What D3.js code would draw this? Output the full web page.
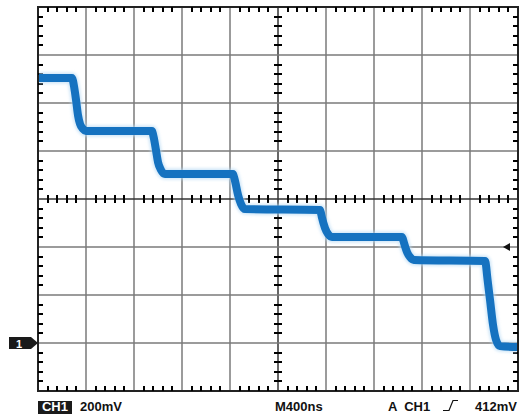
<!DOCTYPE html>
<html><head><meta charset="utf-8">
<script src="https://cdn.jsdelivr.net/npm/d3@7"></script>
<style>
html,body{margin:0;padding:0;background:#fff;}
svg{display:block;}
text{font-family:"Liberation Sans",Arial,sans-serif;font-weight:bold;}
</style></head>
<body>
<script>
// Trace vertices: time (ns, 0 = screen centre) and voltage (mV, 0 = CH1 ground)
const timeNs = [-2000,-1717,-1708,-1700,-1683,-1667,-1650,-1625,-1600,-1050,-1042,-1033,-1017,-1000,-975,-942,
  -375,-367,-358,-333,-308,-275,350,358,367,392,417,450,1033,1042,1050,1075,1100,1133,1725,1733,1742,1767,1792,1817,1850,2000];
const voltMv = [1104,1104,1092,1070,1013,950,913,892,883,883,871,850,804,754,721,704,
  704,692,675,617,579,558,554,542,521,479,454,442,442,431,417,379,358,346,342,325,283,179,75,13,-13,-17];
const timePerDiv = 400;   // ns/div
const voltPerDiv = 200;   // mV/div
const triggerMv = 400;    // trigger marker level (mV)
const groundMv = 0;
const labelCh = "CH1";
const labelScale = "200mV";
const labelTime = "M400ns";
const labelTrigA = "A  CH1";
const labelTrigLevel = "412mV";

const W = 522, H = 417;
const L = 38, R = 518, T = 7, B = 391;
const svg = d3.select("body").append("svg").attr("width", W).attr("height", H);

const x = d3.scaleLinear().domain([-5*timePerDiv, 5*timePerDiv]).range([L, R]);
const y = d3.scaleLinear().domain([-1*voltPerDiv, 7*voltPerDiv]).range([B, T]);

const xMajor = d3.range(-4, 5).map(d => d*timePerDiv);
const yMajor = d3.range(0, 7).map(d => d*voltPerDiv);
const xMinor = d3.range(-25, 26).filter(d => d % 5 !== 0).map(d => d*timePerDiv/5);
const yMinor = d3.range(-5, 36).filter(d => d % 5 !== 0).map(d => d*voltPerDiv/5);
const yCenter = 3*voltPerDiv;

const grid = svg.append("g");
grid.selectAll("line.gx").data(xMajor).join("line").attr("class","gx")
  .attr("x1", d => x(d)).attr("x2", d => x(d)).attr("y1", T).attr("y2", B)
  .attr("stroke", d => d===0 ? "#333" : "#7a7a7a").attr("stroke-width", 1.5);
grid.selectAll("line.gy").data(yMajor).join("line").attr("class","gy")
  .attr("y1", d => y(d)).attr("y2", d => y(d)).attr("x1", L).attr("x2", R)
  .attr("stroke", d => d===yCenter ? "#333" : "#7a7a7a").attr("stroke-width", 1.5);

// minor ticks on borders and centre lines, as one path
const tl = 5;
const tp = d3.path();
xMinor.forEach(d => {
  const xx = Math.round(x(d));
  tp.moveTo(xx, T); tp.lineTo(xx, T+tl);
  tp.moveTo(xx, B); tp.lineTo(xx, B-tl);
  tp.moveTo(xx, y(yCenter)-4); tp.lineTo(xx, y(yCenter)+4);
});
yMinor.forEach(d => {
  const yy = Math.round(y(d));
  tp.moveTo(L, yy); tp.lineTo(L+tl, yy);
  tp.moveTo(R, yy); tp.lineTo(R-tl, yy);
  tp.moveTo(x(0)-4, yy); tp.lineTo(x(0)+4, yy);
});

// border
svg.append("rect").attr("x", L).attr("y", T).attr("width", R-L).attr("height", B-T)
  .attr("fill","none").attr("stroke","#222").attr("stroke-width",2);
svg.append("path").attr("class","ticks").attr("d", tp.toString()).attr("fill","none")
  .attr("stroke","#000").attr("stroke-width",2);

// trace
const defs = svg.append("defs");
defs.append("clipPath").attr("id","clip").append("rect").attr("x",L+1).attr("y",T+1).attr("width",R-L-2).attr("height",B-T-2);
const flt = defs.append("filter").attr("id","glow").attr("x","-10%").attr("y","-10%").attr("width","120%").attr("height","120%");
flt.append("feGaussianBlur").attr("stdDeviation",1.8);
const pts = timeNs.map((t,i) => [t, voltMv[i]]);
const line = d3.line().x(d => x(d[0])).y(d => y(d[1])).curve(d3.curveMonotoneX);
const tg = svg.append("g").attr("clip-path","url(#clip)");
tg.append("path").attr("d", line(pts)).attr("fill","none").attr("stroke","#b9dcf5")
  .attr("stroke-width",11).attr("stroke-opacity",0.7).attr("filter","url(#glow)");
tg.append("path").attr("d", line(pts)).attr("fill","none").attr("stroke","#1572c0")
  .attr("stroke-width",8).attr("stroke-linejoin","miter").attr("stroke-linecap","butt");

// ground marker "1"
const gy = y(groundMv);
svg.append("path").attr("d", `M9,${gy-6}H31L38,${gy}L31,${gy+6}H9Z`).attr("fill","#1a1a1a");
svg.append("text").attr("x",19).attr("y",gy+4.5).attr("text-anchor","middle").attr("fill","#fff")
  .attr("font-size",11).text("1");

// trigger marker
const ty = y(triggerMv);
svg.append("path").attr("d", `M503,${ty}L510,${ty-4}L510,${ty+4}Z`).attr("fill","#111");

// bottom labels
const by = 411;
svg.append("rect").attr("x",38).attr("y",401).attr("width",34).attr("height",13).attr("fill","#1a1a1a");
svg.append("text").attr("x",55).attr("y",by).attr("text-anchor","middle").attr("fill","#fff").attr("font-size",13).text(labelCh);
svg.append("text").attr("x",80).attr("y",by).attr("fill","#111").attr("font-size",13).text(labelScale);
svg.append("text").attr("x",275).attr("y",by).attr("fill","#111").attr("font-size",13).text(labelTime);
svg.append("text").attr("x",388).attr("y",by).attr("fill","#111").attr("font-size",13).attr("xml:space","preserve").text(labelTrigA);
svg.append("path").attr("d","M443,410.5H449L453,400.5H458").attr("fill","none").attr("stroke","#111").attr("stroke-width",1.2);
svg.append("text").attr("x",517).attr("y",by).attr("text-anchor","end").attr("fill","#111").attr("font-size",13).text(labelTrigLevel);
</script>
</body></html>
